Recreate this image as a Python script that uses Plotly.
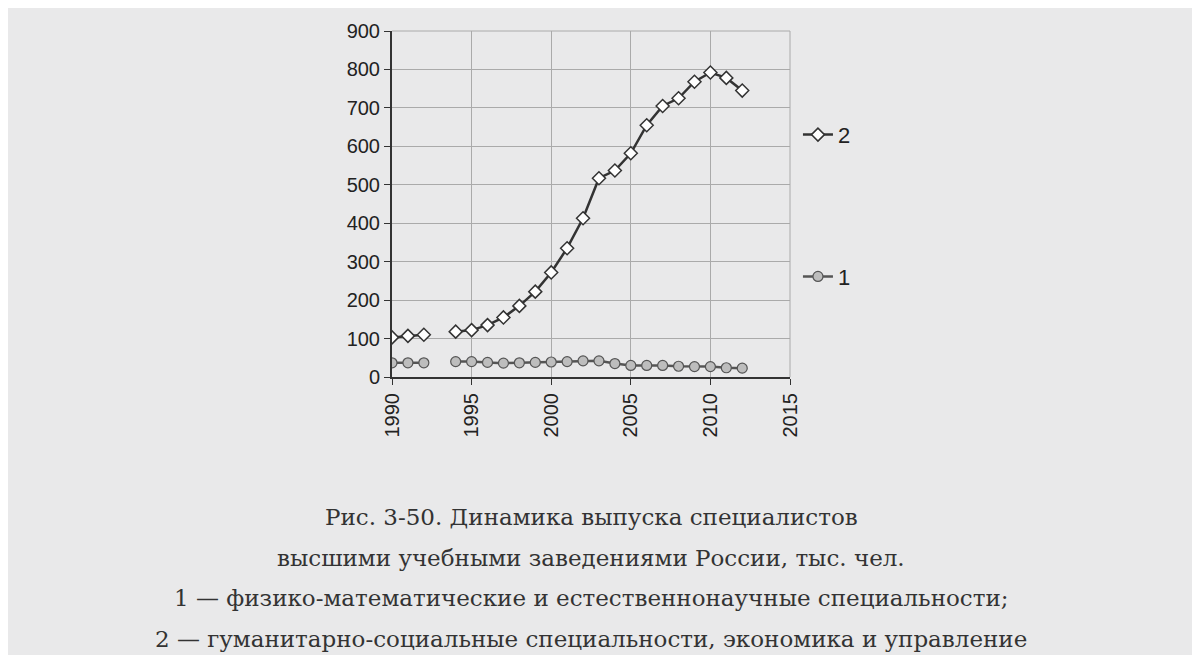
import plotly.graph_objects as go

years = list(range(1990, 2013))
s2 = [103, 107, 110, None, 118, 122, 135, 155, 185, 222, 272, 335, 413, 517, 537, 582, 655, 705, 725, 768, 792, 778, 745]
s1 = [37, 37, 37, None, 40, 40, 38, 36, 37, 38, 39, 40, 42, 42, 35, 30, 30, 30, 28, 27, 27, 24, 23]
caption = ["Рис. 3-50. Динамика выпуска специалистов",
           "высшими учебными заведениями России, тыс. чел.",
           "1 — физико-математические и естественнонаучные специальности;",
           "2 — гуманитарно-социальные специальности, экономика и управление"]

bg = "#e9e9ea"
fig = go.Figure()
fig.add_trace(go.Scatter(x=years, y=s2, name="2", mode="lines+markers", connectgaps=False,
    line=dict(color="#333333", width=2.5),
    marker=dict(symbol="diamond", size=10, color="white", line=dict(color="#333333", width=1.5)),
    legend="legend"))
fig.add_trace(go.Scatter(x=years, y=s1, name="1", mode="lines+markers", connectgaps=False,
    line=dict(color="#555555", width=2.5),
    marker=dict(symbol="circle", size=10, color="#bdbdbd", line=dict(color="#555555", width=1.2)),
    legend="legend2"))

fig.update_layout(
    width=1200, height=655, paper_bgcolor=bg, plot_bgcolor=bg,
    margin=dict(l=384, r=418, t=19, b=286),
    font=dict(family="Liberation Sans, Arial", size=20, color="#222"),
    legend=dict(x=1.02, y=0.70, xanchor="left", yanchor="middle", bgcolor="rgba(0,0,0,0)", font=dict(size=22)),
    legend2=dict(x=1.02, y=0.29, xanchor="left", yanchor="middle", bgcolor="rgba(0,0,0,0)", font=dict(size=22)),
    showlegend=True,
)
fig.update_xaxes(range=[1990, 2015], dtick=5, tickangle=-90, showgrid=True, gridcolor="#aaaaaa",
    showline=True, linecolor="#333", linewidth=2, ticks="outside", ticklen=6, tickcolor="#333", zeroline=False)
fig.update_yaxes(range=[0, 900], dtick=100, showgrid=True, gridcolor="#aaaaaa", mirror=False,
    showline=True, linecolor="#333", linewidth=2, ticks="outside", ticklen=6, tickcolor="#333", zeroline=False)
fig.add_shape(type="line", xref="paper", yref="paper", x0=1, x1=1, y0=0, y1=1, line=dict(color="#aaaaaa", width=1))
fig.add_shape(type="line", xref="paper", yref="paper", x0=0, x1=1, y0=1, y1=1, line=dict(color="#aaaaaa", width=1))

for i, t in enumerate(caption):
    fig.add_annotation(text=t, xref="paper", yref="paper", x=0.5, y=-0.406 - i*0.117, xanchor="center",
        yanchor="middle", showarrow=False, font=dict(family="DejaVu Serif, Liberation Serif", size=23, color="#333"))

fig.write_html("out.html")
